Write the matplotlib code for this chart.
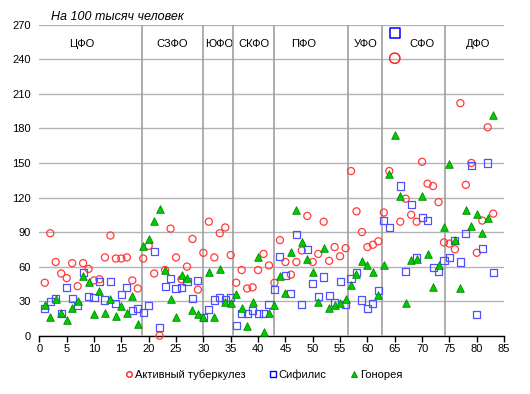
import numpy as np
import matplotlib
matplotlib.use('Agg')
import matplotlib.pyplot as plt
from matplotlib.lines import Line2D

plt.rcParams['font.family'] = ['Liberation Sans', 'DejaVu Sans']

# номер субъекта РФ по оси x
regions = np.arange(1, 84)

# активный туберкулез
tuberculosis = [46, 89, 64, 54, 50, 63, 43, 63, 58, 48, 49, 68, 87, 67, 67, 68, 48, 41, 67, 78,
                54, 0, 57, 93, 68, 49, 60, 84, 40, 72, 99, 68, 89, 94, 70, 46, 57, 41, 42, 57,
                71, 61, 46, 83, 64, 53, 64, 74, 104, 64, 71, 99, 65, 77, 69, 76, 143, 108, 90, 77,
                79, 82, 107, 143, 241, 99, 119, 105, 99, 151, 132, 130, 116, 81, 80, 75, 202, 131, 150, 72,
                100, 181, 106]

# сифилис
syphilis = [24, 30, 32, 19, 42, 32, 26, 55, 34, 33, 47, 31, 47, 28, 36, 42, 22, 24, 20, 26,
            73, 7, 43, 50, 41, 42, 47, 32, 48, 16, 23, 31, 33, 31, 33, 8.6, 19, 19, 22, 19,
            19, 27, 40, 69, 52, 37, 88, 27, 75, 45, 34, 51, 35, 29, 47, 27, 50, 55, 31, 24,
            28, 39, 100, 94, 263, 130, 56, 114, 68, 103, 100, 59, 56, 65, 68, 83, 64, 89, 148, 18.5,
            76, 150, 55]

# гонорея
gonorrhea = [27, 16.5, 32, 20, 14, 24, 30, 52, 47, 19, 39, 20, 32, 17.5, 26, 19.5, 34.5, 10, 78, 84,
             100, 110, 57, 32, 16.5, 53, 50, 22, 19, 16.5, 55, 16.5, 58, 29.5, 28, 36, 24, 8.5, 29, 68,
             3, 20, 27, 52, 37, 73, 109, 81, 67, 55, 29, 76, 24, 27, 28, 31.5, 44, 54, 65, 61,
             55.5, 35.5, 61, 140, 174, 121, 28, 66, 67, 121, 71, 42, 61, 94, 149, 83, 41, 109, 95, 106,
             89, 102, 192]

# федеральные округа
district_names = ['ЦФО', 'СЗФО', 'ЮФО', 'СКФО', 'ПФО', 'УФО', 'СФО', 'ДФО']
district_label_x = [7.8, 24.3, 32.9, 39.2, 48.3, 59.7, 69.9, 80.3]
district_bounds = [18.85, 29.9, 35.5, 42.95, 56.5, 62.75, 74.1]

hl = 64  # выделенная точка (65-й субъект)

fig = plt.figure(figsize=(5.3, 3.94), dpi=100)
ax = fig.add_axes([0.0742, 0.148, 0.877, 0.789])

ax.set_xlim(0, 85)
ax.set_ylim(0, 270)
ax.set_xticks(np.arange(0, 86, 5))
ax.set_yticks(np.arange(0, 271, 30))
ax.yaxis.grid(True, color='#b4b4b4', linewidth=1.0)
ax.set_axisbelow(True)
for s in ['top', 'right', 'left']:
    ax.spines[s].set_visible(False)
ax.spines['bottom'].set_color('black')
ax.spines['bottom'].set_linewidth(1.0)
ax.tick_params(axis='y', length=0, labelsize=8, pad=6)
ax.tick_params(axis='x', direction='out', length=4, width=1, labelsize=8, pad=2)

for xb in district_bounds:
    ax.plot([xb, xb], [0, 270], color='#a0a0a0', linewidth=1.2, zorder=3)
for name, xl in zip(district_names, district_label_x):
    ax.text(xl, 253.5, name, ha='center', va='center', fontsize=8, zorder=2)

idx = np.arange(len(regions)) != hl
tb = np.array(tuberculosis)
sy = np.array(syphilis)
go = np.array(gonorrhea)

ax.scatter(regions[idx], tb[idx], s=26, marker='o', facecolors='none',
           edgecolors='#ff3b3b', linewidths=0.9, zorder=4, clip_on=False)
ax.scatter(regions[idx], sy[idx], s=26, marker='s', facecolors='none',
           edgecolors='#5050ff', linewidths=0.9, zorder=5, clip_on=False)
ax.scatter(regions, go, s=30, marker='^', facecolors='#00cc00',
           edgecolors='#008a00', linewidths=0.6, zorder=6, clip_on=False)
# увеличенные маркеры
ax.scatter([regions[hl]], [tb[hl]], s=55, marker='o', facecolors='none',
           edgecolors='#ff2020', linewidths=1.1, zorder=4, clip_on=False)
ax.scatter([regions[hl]], [sy[hl]], s=55, marker='s', facecolors='none',
           edgecolors='#0000ff', linewidths=1.1, zorder=5, clip_on=False)

fig.text(0.096, 0.957, 'На 100 тысяч человек', fontsize=9, style='italic',
         ha='left', va='center')

handles = [
    Line2D([], [], marker='o', linestyle='none', markerfacecolor='none',
           markeredgecolor='#ff2020', markersize=4, markeredgewidth=1),
    Line2D([], [], marker='s', linestyle='none', markerfacecolor='none',
           markeredgecolor='#0000ff', markersize=4, markeredgewidth=1),
    Line2D([], [], marker='^', linestyle='none', markerfacecolor='#00cc00',
           markeredgecolor='#008a00', markersize=4.5, markeredgewidth=0.6),
]
fig.legend(handles, ['Активный туберкулез', 'Сифилис', 'Гонорея'], loc='center',
           bbox_to_anchor=(0.498, 0.048), ncol=3, frameon=False, fontsize=8,
           handlelength=0.6, handletextpad=0.2, columnspacing=2.2)

fig.savefig('out.png', dpi=100)
